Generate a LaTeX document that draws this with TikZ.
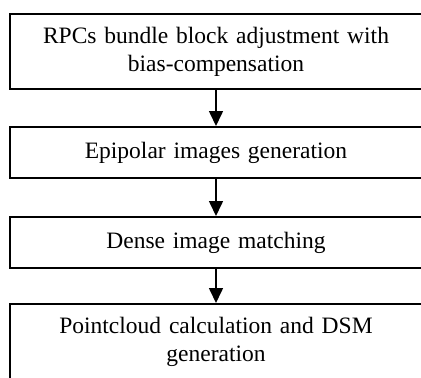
\documentclass[tikz,border=0pt]{standalone}
\usepackage{fontspec}
\setmainfont{Liberation Serif}
\usepackage{tikz}
\usetikzlibrary{calc,arrows.meta}

\begin{document}
\begin{tikzpicture}[x=1pt,y=1pt,
    stagebox/.style={draw=black,line width=2pt,minimum width=412pt,
      text width=400pt,align=center,inner sep=0pt,
      font=\fontsize{23.5}{28}\selectfont},
    flow/.style={line width=1.6pt,-{Triangle[length=15pt,width=14pt]}}]
    \useasboundingbox (0,0) rectangle (421,-378);
    \node[stagebox,minimum height=75pt] (rpc) at (216,-51.5)
      {RPCs bundle block adjustment with\\bias-compensation};
    \node[stagebox,minimum height=51pt] (epi) at (216,-152.5)
      {Epipolar images generation};
    \node[stagebox,minimum height=51pt] (dense) at (216,-242.5)
      {Dense image matching};
    \node[stagebox,minimum height=75pt] (dsm) at (216,-341.5)
      {Pointcloud calculation and DSM\\generation};
    \draw[flow] (rpc) -- (epi);
    \draw[flow] (epi) -- (dense);
    \draw[flow] (dense) -- (dsm);
  \end{tikzpicture}
\end{document}
